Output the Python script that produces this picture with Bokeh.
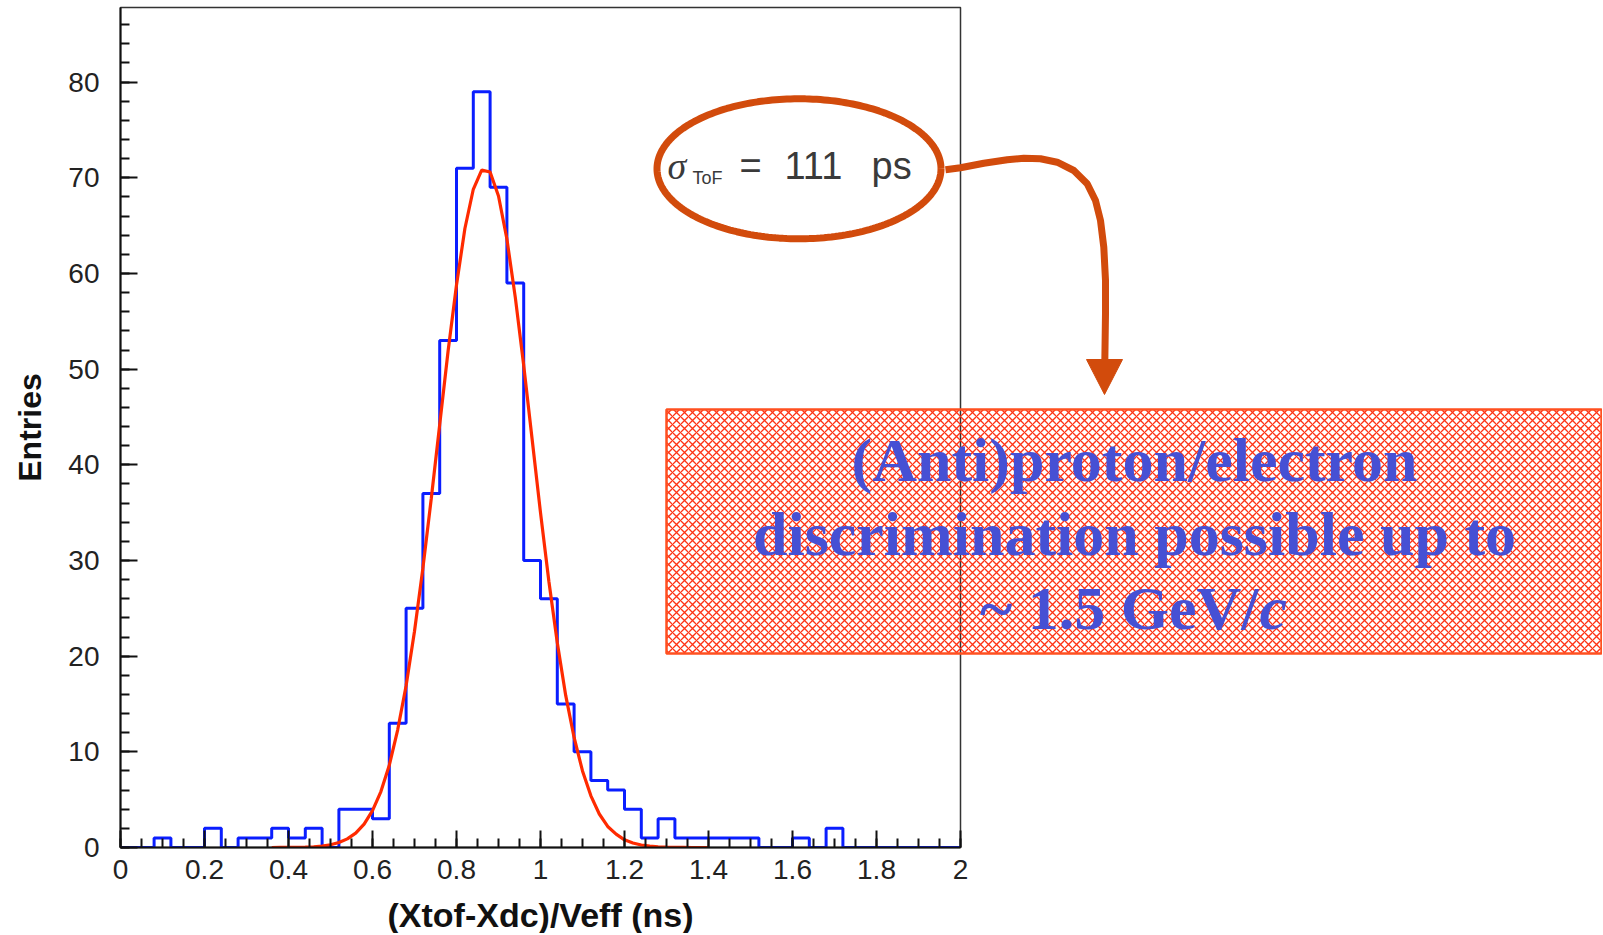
import numpy as np
from bokeh.plotting import figure
from bokeh.models import Range1d, FixedTicker
from bokeh.core.properties import value
from bokeh.embed import file_html
from bokeh.resources import INLINE

# ---------------- data ----------------
bin_width = 0.04
bin_edges = [round(bin_width * i, 2) for i in range(51)]
counts = [0, 0, 1, 0, 0, 2, 0, 1, 1, 2,
          1, 2, 0, 4, 4, 3, 13, 25, 37, 53,
          71, 79, 69, 59, 30, 26, 15, 10, 7, 6,
          4, 1, 3, 1, 1, 1, 1, 1, 0, 0,
          1, 0, 2, 0, 0, 0, 0, 0, 0, 0]

fit_x = [round(0.36 + 0.02 * i, 2) for i in range(53)]
fit_y = [0.0, 0.01, 0.01, 0.02, 0.04, 0.08, 0.16, 0.29, 0.52, 0.90,
         1.5, 2.45, 3.85, 5.85, 8.6, 12.3, 16.9, 22.6, 29.2, 36.5,
         44.2, 51.9, 58.8, 64.7, 68.8, 70.8, 70.6, 68.1, 63.6, 57.5,
         50.4, 42.7, 35.0, 27.8, 21.4, 15.9, 11.5, 8.0, 5.4, 3.5,
         2.2, 1.4, 0.8, 0.47, 0.26, 0.14, 0.07, 0.04, 0.02, 0.01,
         0.0, 0.0, 0.0]

xtick_vals = [0, 0.2, 0.4, 0.6, 0.8, 1, 1.2, 1.4, 1.6, 1.8, 2]
xtick_labels = ["0", "0.2", "0.4", "0.6", "0.8", "1", "1.2", "1.4", "1.6", "1.8", "2"]
xminor_vals = [round(0.05 * i, 2) for i in range(41)]
ytick_vals = [0, 10, 20, 30, 40, 50, 60, 70, 80]
yminor_vals = list(range(0, 88, 2))

x_title = "(Xtof-Xdc)/Veff (ns)"
y_title = "Entries"
box_lines = ["(Anti)proton/electron", "discrimination possible up to", "~ 1.5 GeV/", "c"]

# ---------------- layout ----------------
W, H = 1602, 933
FL, FT, FW, FH = 120, 7, 840, 840
X0, X1 = 0.0, 2.0
Y0, Y1 = 0.0, 87.8
OFF = 0  # page offset of the canvas


def px(xp):
    """page pixel x -> data x"""
    return X0 + (xp - OFF - FL) / FW * (X1 - X0)


def py(yp):
    """page pixel y -> data y"""
    return Y1 - (yp - OFF - FT) / FH * (Y1 - Y0)


p = figure(width=W, height=H, output_backend="svg", toolbar_location=None,
           x_range=Range1d(X0, X1), y_range=Range1d(Y0, Y1),
           min_border_left=FL, min_border_top=FT,
           min_border_right=W - FL - FW, min_border_bottom=H - FT - FH)
p.background_fill_color = "white"
p.border_fill_color = "white"
p.outline_line_color = "#333333"
p.outline_line_width = 1.5
p.xgrid.visible = False
p.ygrid.visible = False

# axes
p.xaxis.ticker = FixedTicker(ticks=xtick_vals, minor_ticks=xminor_vals)
p.xaxis.major_label_overrides = {v: l for v, l in zip(xtick_vals, xtick_labels)}
p.yaxis.ticker = FixedTicker(ticks=ytick_vals, minor_ticks=yminor_vals)
for ax in (p.xaxis[0], p.yaxis[0]):
    ax.axis_line_color = "#111111"
    ax.axis_line_width = 2
    ax.major_tick_line_color = "#111111"
    ax.major_tick_line_width = 2
    ax.minor_tick_line_color = "#111111"
    ax.minor_tick_line_width = 2
    ax.major_tick_out = 0
    ax.minor_tick_out = 0
    ax.major_tick_in = 17
    ax.minor_tick_in = 9
    ax.major_label_text_font = "Liberation Sans"
    ax.major_label_text_font_size = "28px"
    ax.major_label_text_color = "#222222"
    ax.axis_label_text_font = "Liberation Sans"
    ax.axis_label_text_font_style = "bold"
    ax.axis_label_text_font_size = "32px"
    ax.axis_label_text_color = "#111111"
p.yaxis.axis_label = y_title
p.xaxis.major_label_standoff = 12
p.yaxis.major_label_standoff = 21
p.yaxis.axis_label_standoff = 17
p.yaxis.major_label_orientation = "horizontal"

# x-axis title (placed explicitly, centred under the frame)
p.text(x=[(X0 + X1) / 2], y=[py(914)], text=[x_title], text_font=value("Liberation Sans"),
       text_font_style="bold", text_font_size="34px", text_color="#111111",
       text_align="center", text_baseline="middle", level="overlay")

# histogram and fit
p.step(x=bin_edges, y=counts + [counts[-1]], mode="after",
       line_color="#0a1eff", line_width=3)
p.line(x=fit_x, y=fit_y, line_color="#ff2a00", line_width=3.2)

# ---------------- decorations ----------------
ORANGE = "#d24b0c"

# ellipse around sigma text
t = np.linspace(0, 2 * np.pi, 240)
ex = 798.5 + 142 * np.cos(t)
ey = 168.3 + 70 * np.sin(t)
p.line(x=[px(v) for v in ex], y=[py(v) for v in ey], line_color=ORANGE,
       line_width=7, level="overlay")

# sigma text
TXT_GRAY = "#3a3a3a"
p.text(x=[px(667)], y=[py(165)], text=["σ"], text_font=value("Liberation Serif"),
       text_font_style="italic", text_font_size="38px", text_color=TXT_GRAY,
       text_baseline="alphabetic", text_align="left", level="overlay")
p.text(x=[px(692)], y=[py(177)], text=["ToF"], text_font=value("Liberation Sans"),
       text_font_size="18px", text_color=TXT_GRAY,
       text_baseline="alphabetic", text_align="left", level="overlay")
p.text(x=[px(739), px(784), px(871)], y=[py(165)] * 3, text=["=", "111", "ps"],
       text_font=value("Liberation Sans"), text_font_size="38px", text_color=TXT_GRAY,
       text_baseline="alphabetic", text_align="left", level="overlay")

# curved arrow
ax_pts = [(945, 169.3), (960, 167.3), (983.3, 162.7), (1006.7, 159.3), (1023.3, 157.7),
          (1040, 158.3), (1056.7, 161.7), (1073.3, 170), (1086.7, 183.3), (1095, 200),
          (1100, 220), (1103.3, 246.7), (1105, 280), (1105, 313), (1104.3, 362)]
p.line(x=[px(a) for a, b in ax_pts], y=[py(b) for a, b in ax_pts], line_color=ORANGE,
       line_width=7, line_join="round", level="overlay")
head = [(1086, 359), (1122, 359), (1104, 394)]
p.patch(x=[px(a) for a, b in head], y=[py(b) for a, b in head], fill_color=ORANGE,
        line_color=ORANGE, line_width=1, level="overlay")

# hatched box
p.quad(left=[px(666)], right=[px(1601)], top=[py(409)], bottom=[py(653)],
       fill_color=None, hatch_pattern="diagonal_cross", hatch_color="#ff3214",
       hatch_scale=8, hatch_weight=1.3, line_color="#ff5020", line_width=2.5,
       level="overlay")

TXT_BLUE = "#4650d4"
p.text(x=[px(1134), px(1134)], y=[py(459), py(533)], text=box_lines[:2],
       text_font=value("Liberation Serif"), text_font_style="bold",
       text_font_size="62px", text_color=TXT_BLUE, text_align="center",
       text_baseline="alphabetic", level="overlay")
p.text(x=[px(1258)], y=[py(607)], text=[box_lines[2]],
       text_font=value("Liberation Serif"), text_font_style="bold",
       text_font_size="62px", text_color=TXT_BLUE, text_align="right",
       text_baseline="alphabetic", level="overlay")
p.text(x=[px(1259)], y=[py(607)], text=[box_lines[3]],
       text_font=value("Liberation Serif"), text_font_style="bold italic",
       text_font_size="62px", text_color=TXT_BLUE, text_align="left",
       text_baseline="alphabetic", level="overlay")

open("out.html", "w").write(file_html(p, INLINE))
